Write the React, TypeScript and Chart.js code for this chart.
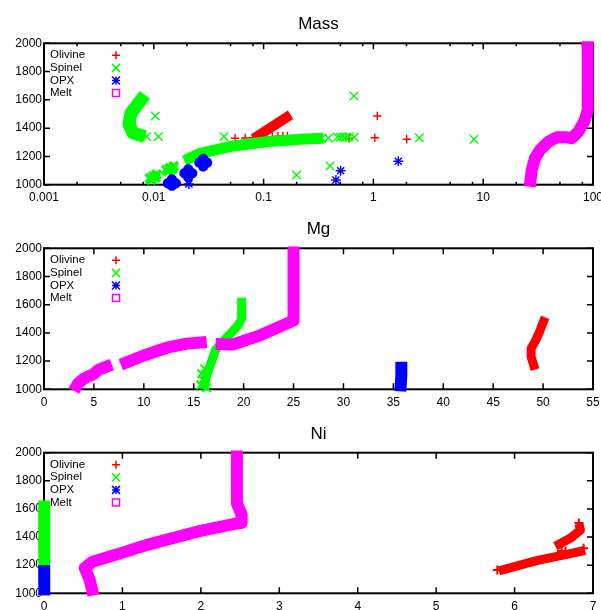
import React, { useEffect, useRef } from 'react';
import { Chart, registerables } from 'chart.js';

Chart.register(...registerables);

type Pt = { x: number; y: number };

const FONT = '"Liberation Sans", Arial, Helvetica, sans-serif';

// ---------- shared ----------
const seriesLabels = ['Olivine', 'Spinel', 'OPX', 'Melt'];
const seriesColors = ['#ff0000', '#00ff00', '#0000ff', '#ff00ff'];
const seriesStyles = ['cross', 'crossRot', 'star', 'rect'];

const yTickValues = [1000, 1200, 1400, 1600, 1800, 2000];
const yTickLabels = ['1000', '1200', '1400', '1600', '1800', '2000'];

// ---------- Mass panel ----------
const massXTickValues = [0.001, 0.01, 0.1, 1, 10, 100];
const massXTickLabels = ['0.001', '0.01', '0.1', '1', '10', '100'];
const massMinorMultipliers = [2, 5, 8];

const massOlivineBand: Pt[] = [{ x: 0.081, y: 1325 }, { x: 0.176, y: 1495 }];
const massOlivinePts: Pt[] = [
  { x: 0.055, y: 1328 }, { x: 0.068, y: 1330 }, { x: 0.08, y: 1333 }, { x: 0.1, y: 1336 },
  { x: 0.12, y: 1340 }, { x: 0.135, y: 1343 }, { x: 0.15, y: 1345 }, { x: 0.165, y: 1345 },
  { x: 0.603, y: 1328 }, { x: 1.03, y: 1332 }, { x: 1.086, y: 1486 }, { x: 2.01, y: 1321 },
];
const massSpinelUpperBand: Pt[] = [
  { x: 0.0083, y: 1635 }, { x: 0.0062, y: 1507 }, { x: 0.00594, y: 1429 },
  { x: 0.00647, y: 1366 }, { x: 0.0083, y: 1340 },
];
const massSpinelLowerBand: Pt[] = [
  { x: 0.019, y: 1170 }, { x: 0.0264, y: 1222 }, { x: 0.0527, y: 1274 },
  { x: 0.1067, y: 1304 }, { x: 0.2146, y: 1321 }, { x: 0.35, y: 1328 },
];
const massSpinelBlobPts: Pt[] = [
  { x: 0.0092, y: 1045 }, { x: 0.0099, y: 1060 }, { x: 0.0106, y: 1072 }, { x: 0.0095, y: 1035 }, { x: 0.0104, y: 1050 },
  { x: 0.013, y: 1105 }, { x: 0.014, y: 1118 }, { x: 0.0152, y: 1130 }, { x: 0.0135, y: 1095 }, { x: 0.0148, y: 1110 },
];
const massSpinelPts: Pt[] = [
  { x: 0.0103, y: 1486 }, { x: 0.0086, y: 1340 }, { x: 0.011, y: 1340 }, { x: 0.0436, y: 1340 },
  { x: 0.2, y: 1069 }, { x: 0.403, y: 1132 }, { x: 0.3, y: 1326 }, { x: 0.34, y: 1328 }, { x: 0.39, y: 1330 },
  { x: 0.47, y: 1338 }, { x: 0.5, y: 1335 }, { x: 0.53, y: 1338 }, { x: 0.56, y: 1335 }, { x: 0.6, y: 1338 },
  { x: 0.67, y: 1335 }, { x: 0.665, y: 1627 }, { x: 2.62, y: 1332 }, { x: 8.24, y: 1321 },
];
const massOpxBlobPts: Pt[] = [
  { x: 0.0134, y: 1010 }, { x: 0.0159, y: 1010 }, { x: 0.0146, y: 1038 }, { x: 0.0146, y: 992 },
  { x: 0.019, y: 1081 }, { x: 0.0224, y: 1081 }, { x: 0.0206, y: 1053 }, { x: 0.0206, y: 1109 }, { x: 0.0206, y: 1081 },
  { x: 0.026, y: 1156 }, { x: 0.0306, y: 1156 }, { x: 0.0282, y: 1128 }, { x: 0.0282, y: 1184 }, { x: 0.0282, y: 1156 },
];
const massOpxPts: Pt[] = [
  { x: 0.0209, y: 1005 }, { x: 0.503, y: 1099 }, { x: 0.456, y: 1033 }, { x: 1.686, y: 1166 },
];
const massMeltBand: Pt[] = [
  { x: 26.5, y: 985 }, { x: 27.7, y: 1104 }, { x: 29.6, y: 1187 }, { x: 32.9, y: 1245 },
  { x: 39.2, y: 1304 }, { x: 46.7, y: 1335 }, { x: 57.5, y: 1335 }, { x: 64, y: 1328 },
  { x: 73.5, y: 1375 }, { x: 84.5, y: 1458 }, { x: 89.5, y: 1528 }, { x: 89.5, y: 2015 },
];

// ---------- Mg panel ----------
const mgXTickValues = [0, 5, 10, 15, 20, 25, 30, 35, 40, 45, 50, 55];
const mgXTickLabels = ['0', '5', '10', '15', '20', '25', '30', '35', '40', '45', '50', '55'];

const mgOlivineBand: Pt[] = [
  { x: 49.2, y: 1140 }, { x: 48.8, y: 1230 }, { x: 48.8, y: 1290 },
  { x: 49.2, y: 1340 }, { x: 49.6, y: 1400 }, { x: 50.2, y: 1510 },
];
const mgSpinelBand: Pt[] = [
  { x: 16.0, y: 1000 }, { x: 16.3, y: 1100 }, { x: 16.8, y: 1200 }, { x: 17.2, y: 1280 },
  { x: 17.8, y: 1330 }, { x: 18.6, y: 1390 }, { x: 19.4, y: 1450 }, { x: 19.8, y: 1500 }, { x: 19.8, y: 1650 },
];
const mgSpinelPts: Pt[] = [
  { x: 15.7, y: 1030 }, { x: 15.9, y: 1070 }, { x: 15.8, y: 1110 }, { x: 16.1, y: 1145 }, { x: 16.3, y: 1010 },
];
const mgOpxBand: Pt[] = [{ x: 35.7, y: 985 }, { x: 35.8, y: 1100 }, { x: 35.8, y: 1195 }];
const mgMeltBand1: Pt[] = [
  { x: 3.0, y: 990 }, { x: 3.4, y: 1040 }, { x: 4.0, y: 1075 }, { x: 5.0, y: 1110 }, { x: 5.5, y: 1140 }, { x: 6.8, y: 1175 },
];
const mgMeltBand2: Pt[] = [
  { x: 7.7, y: 1175 }, { x: 10, y: 1240 }, { x: 12.3, y: 1295 }, { x: 14.3, y: 1324 }, { x: 16.3, y: 1336 },
];
const mgMeltBand3: Pt[] = [
  { x: 17.2, y: 1322 }, { x: 18.9, y: 1318 }, { x: 21.6, y: 1381 }, { x: 25.0, y: 1487 }, { x: 25.0, y: 2012 },
];

// ---------- Ni panel ----------
const niXTickValues = [0, 1, 2, 3, 4, 5, 6, 7];
const niXTickLabels = ['0', '1', '2', '3', '4', '5', '6', '7'];

const niOlivineBandLow: Pt[] = [{ x: 5.8, y: 1160 }, { x: 6.28, y: 1232 }, { x: 6.65, y: 1275 }, { x: 6.9, y: 1305 }];
const niOlivineBandHigh: Pt[] = [{ x: 6.52, y: 1335 }, { x: 6.72, y: 1395 }, { x: 6.84, y: 1450 }, { x: 6.82, y: 1495 }];
const niOlivinePts: Pt[] = [
  { x: 5.78, y: 1165 }, { x: 6.6, y: 1300 }, { x: 6.65, y: 1300 }, { x: 6.88, y: 1320 }, { x: 6.82, y: 1500 },
];
const niSpinelBand: Pt[] = [{ x: 0.003, y: 1190 }, { x: 0.003, y: 1660 }];
const niOpxBand: Pt[] = [{ x: 0.003, y: 985 }, { x: 0.003, y: 1200 }];
const niMeltBand: Pt[] = [
  { x: 0.63, y: 985 }, { x: 0.58, y: 1100 }, { x: 0.52, y: 1180 }, { x: 0.62, y: 1225 },
  { x: 0.97, y: 1284 }, { x: 1.35, y: 1350 }, { x: 1.95, y: 1438 }, { x: 2.46, y: 1498 },
  { x: 2.52, y: 1500 }, { x: 2.52, y: 1560 }, { x: 2.46, y: 1640 }, { x: 2.46, y: 2015 },
];

// ---------- helpers ----------
const ORDER = [4, 3, 2, 1]; // olivine drawn first, melt on top

function band(data: Pt[], s: number, width: number) {
  return {
    data,
    showLine: true,
    pointRadius: 0,
    pointHoverRadius: 0,
    borderColor: seriesColors[s],
    backgroundColor: seriesColors[s],
    borderWidth: width,
    borderCapStyle: 'butt',
    borderJoinStyle: 'round',
    clip: false,
    order: ORDER[s],
  };
}

function pts(data: Pt[], s: number, radius: number, lw = 1.4) {
  return {
    data,
    showLine: false,
    pointStyle: seriesStyles[s],
    pointRadius: radius,
    pointHoverRadius: radius,
    pointBorderColor: seriesColors[s],
    pointBackgroundColor: seriesStyles[s] === 'rect' ? 'transparent' : seriesColors[s],
    pointBorderWidth: lw,
    clip: false,
    order: ORDER[s],
  };
}

function drawKeyMarker(ctx: CanvasRenderingContext2D, style: string, x: number, y: number, color: string) {
  ctx.save();
  ctx.strokeStyle = color;
  ctx.lineWidth = 1.5;
  ctx.beginPath();
  const r = 4;
  if (style === 'cross' || style === 'star') {
    ctx.moveTo(x - r, y); ctx.lineTo(x + r, y);
    ctx.moveTo(x, y - r); ctx.lineTo(x, y + r);
  }
  if (style === 'crossRot' || style === 'star') {
    ctx.moveTo(x - r, y - r); ctx.lineTo(x + r, y + r);
    ctx.moveTo(x - r, y + r); ctx.lineTo(x + r, y - r);
  }
  if (style === 'rect') ctx.rect(x - 3.5, y - 3.5, 7, 7);
  ctx.stroke();
  ctx.restore();
}

const framePlugin = {
  id: 'gpFrame',
  beforeDatasetsDraw(chart: any, _a: any, opts: any) {
    const { ctx, chartArea } = chart;
    const { left, right, top, bottom } = chartArea;
    const xs = chart.scales.x, ys = chart.scales.y;
    ctx.save();
    ctx.strokeStyle = '#000';
    ctx.lineWidth = 1.5;
    ctx.beginPath();
    const major = 6, minor = 3;
    for (const t of xs.ticks) {
      const p = xs.getPixelForValue(t.value);
      ctx.moveTo(p, bottom); ctx.lineTo(p, bottom - major);
      ctx.moveTo(p, top); ctx.lineTo(p, top + major);
    }
    for (const v of (opts.minor || []) as number[]) {
      const p = xs.getPixelForValue(v);
      ctx.moveTo(p, bottom); ctx.lineTo(p, bottom - minor);
      ctx.moveTo(p, top); ctx.lineTo(p, top + minor);
    }
    for (const t of ys.ticks) {
      const p = ys.getPixelForValue(t.value);
      ctx.moveTo(left, p); ctx.lineTo(left + major, p);
      ctx.moveTo(right, p); ctx.lineTo(right - major, p);
    }
    ctx.stroke();
    ctx.lineWidth = 2;
    ctx.strokeRect(left, top, right - left, bottom - top);
    ctx.restore();
  },
};

const keyPlugin = {
  id: 'gpKey',
  afterDatasetsDraw(chart: any) {
    const { ctx, chartArea } = chart;
    const { left, top } = chartArea;
    ctx.save();
    ctx.font = `11.5px ${FONT}`;
    ctx.fillStyle = '#000';
    ctx.textBaseline = 'middle';
    ctx.textAlign = 'left';
    seriesLabels.forEach((lab, i) => {
      const y = top + 12 + i * 12.6;
      ctx.fillText(lab, left + 6, y);
      drawKeyMarker(ctx, seriesStyles[i], left + 72, y, seriesColors[i]);
    });
    ctx.restore();
  },
};

type PanelCfg = {
  title: string;
  xType: 'linear' | 'logarithmic';
  xMin: number;
  xMax: number;
  xTicks: number[];
  xLabels: string[];
  minor: number[];
  datasets: any[];
  areaTop: number;
  areaBottom: number;
};

const CANVAS_W = 620;
const CANVAS_H = 205;
const AREA_LEFT = 44;
const AREA_RIGHT = 593;

function labelFor(values: number[], labels: string[], v: number) {
  const i = values.findIndex((t) => Math.abs(t - v) <= Math.abs(t) * 1e-6 + 1e-9);
  return i >= 0 ? labels[i] : '';
}

function buildConfig(p: PanelCfg): any {
  const titleSize = 17;
  const lineH = titleSize * 1.2;
  const padTop = 14.3;
  const padBottom = p.areaTop - padTop - lineH;
  return {
    type: 'scatter',
    data: { datasets: p.datasets },
    options: {
      responsive: false,
      animation: false,
      devicePixelRatio: 1,
      events: [],
      layout: { padding: { left: 0, right: CANVAS_W - AREA_RIGHT, top: 0, bottom: 0 } },
      scales: {
        x: {
          type: p.xType,
          min: p.xMin,
          max: p.xMax,
          grid: { display: false, drawTicks: false },
          border: { display: false },
          afterBuildTicks: (scale: any) => {
            scale.ticks = p.xTicks.map((v) => ({ value: v }));
          },
          afterFit: (scale: any) => {
            scale.height = CANVAS_H - p.areaBottom;
          },
          ticks: {
            autoSkip: false,
            maxRotation: 0,
            padding: 6,
            color: '#000',
            font: { family: FONT, size: 12 },
            callback: (v: number) => labelFor(p.xTicks, p.xLabels, v),
          },
        },
        y: {
          type: 'linear',
          min: 1000,
          max: 2000,
          grid: { display: false, drawTicks: false },
          border: { display: false },
          afterBuildTicks: (scale: any) => {
            scale.ticks = yTickValues.map((v) => ({ value: v }));
          },
          afterFit: (scale: any) => {
            scale.width = AREA_LEFT;
          },
          ticks: {
            autoSkip: false,
            padding: 2,
            color: '#000',
            font: { family: FONT, size: 12 },
            callback: (v: number) => labelFor(yTickValues, yTickLabels, v),
          },
        },
      },
      plugins: {
        legend: { display: false },
        tooltip: { enabled: false },
        title: {
          display: true,
          text: p.title,
          fullSize: false,
          color: '#000',
          font: { family: FONT, size: titleSize, weight: 'normal', lineHeight: 1.2 },
          padding: { top: padTop, bottom: padBottom },
        },
        gpFrame: { minor: p.minor },
      },
    },
    plugins: [framePlugin, keyPlugin],
  };
}

const massMinor: number[] = [];
massXTickValues.slice(0, -1).forEach((d) => massMinorMultipliers.forEach((m) => massMinor.push(d * m)));

const panels: PanelCfg[] = [
  {
    title: 'Mass',
    xType: 'logarithmic',
    xMin: 0.001,
    xMax: 100,
    xTicks: massXTickValues,
    xLabels: massXTickLabels,
    minor: massMinor,
    areaTop: 43.3,
    areaBottom: 184.7,
    datasets: [
      band(massOlivineBand, 0, 10),
      pts(massOlivinePts, 0, 4.2),
      band(massSpinelUpperBand, 1, 13),
      band(massSpinelLowerBand, 1, 11),
      pts(massSpinelBlobPts, 1, 6, 3.5),
      pts(massSpinelPts, 1, 6),
      pts(massOpxBlobPts, 2, 5, 3.5),
      pts(massOpxPts, 2, 5),
      band(massMeltBand, 3, 12),
    ],
  },
  {
    title: 'Mg',
    xType: 'linear',
    xMin: 0,
    xMax: 55,
    xTicks: mgXTickValues,
    xLabels: mgXTickLabels,
    minor: [],
    areaTop: 43.3,
    areaBottom: 184.3,
    datasets: [
      band(mgOlivineBand, 0, 9),
      band(mgSpinelBand, 1, 9),
      pts(mgSpinelPts, 1, 6, 2),
      band(mgOpxBand, 2, 12),
      band(mgMeltBand1, 3, 12),
      band(mgMeltBand2, 3, 12),
      band(mgMeltBand3, 3, 12),
    ],
  },
  {
    title: 'Ni',
    xType: 'linear',
    xMin: 0,
    xMax: 7,
    xTicks: niXTickValues,
    xLabels: niXTickLabels,
    minor: [],
    areaTop: 42.7,
    areaBottom: 183.3,
    datasets: [
      band(niOlivineBandLow, 0, 9),
      band(niOlivineBandHigh, 0, 9),
      pts(niOlivinePts, 0, 4.5, 2),
      band(niSpinelBand, 1, 12),
      band(niOpxBand, 2, 12),
      band(niMeltBand, 3, 12),
    ],
  },
];

function Panel({ cfg, top }: { cfg: PanelCfg; top: number }) {
  const ref = useRef<HTMLCanvasElement>(null);
  useEffect(() => {
    const chart = new Chart(ref.current as HTMLCanvasElement, buildConfig(cfg));
    return () => chart.destroy();
  }, [cfg]);
  return (
    <div style={{ position: 'absolute', left: 0, top, width: CANVAS_W, height: CANVAS_H }}>
      <canvas
        ref={ref}
        width={CANVAS_W}
        height={CANVAS_H}
        style={{ display: 'block', width: CANVAS_W, height: CANVAS_H }}
      />
    </div>
  );
}

export default function App() {
  return (
    <div
      style={{
        position: 'fixed',
        left: 0,
        top: 0,
        width: 601,
        height: 610,
        overflow: 'hidden',
        background: '#fff',
      }}
    >
      <Panel cfg={panels[0]} top={0} />
      <Panel cfg={panels[1]} top={205} />
      <Panel cfg={panels[2]} top={410} />
    </div>
  );
}
